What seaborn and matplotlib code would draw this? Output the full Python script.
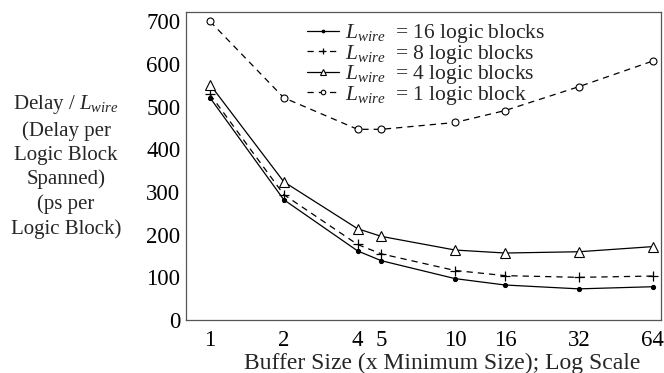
import matplotlib
matplotlib.use("Agg")
import matplotlib.pyplot as plt
import seaborn as sns
import pandas as pd
from matplotlib.ticker import FixedLocator, NullLocator, FixedFormatter

sns.set_theme(style="white")
plt.rcParams['font.family'] = ['Liberation Serif', 'DejaVu Serif']
plt.rcParams['mathtext.fontset'] = 'custom'
plt.rcParams['mathtext.rm'] = 'Liberation Serif'
plt.rcParams['mathtext.it'] = 'Liberation Serif:italic'

buffer_sizes = [1, 2, 4, 5, 10, 16, 32, 64]
delay_16 = [521, 282, 162, 139, 97, 82, 73, 78]
delay_8 = [529, 294, 177, 155, 116, 104, 100, 103]
delay_4 = [552, 324, 214, 196, 164, 157, 160, 172]
delay_1 = [700, 521, 447, 447, 463, 491, 547, 607]
series_labels = ["$L_{wire}$  = 16 logic blocks", "$L_{wire}$  = 8 logic blocks",
                 "$L_{wire}$  = 4 logic blocks", "$L_{wire}$  = 1 logic block"]
xtick_labels = ["1", "2", "4", "5", "10", "16", "32", "64"]
ytick_values = [0, 100, 200, 300, 400, 500, 600, 700]

fig = plt.figure(figsize=(6.64, 3.73), dpi=100)
ax = fig.add_axes([186/664, 1 - 320/373, (661-186)/664, (320-12)/373])

styles = [
    dict(linestyle='-', marker='o', markersize=3, markerfacecolor='black', markeredgecolor='black'),
    dict(linestyle=(0, (5, 4)), marker='+', markersize=7, markeredgewidth=0.9, markeredgecolor='black'),
    dict(linestyle='-', marker='^', markersize=6.5, markerfacecolor='white', markeredgecolor='black', markeredgewidth=0.8),
    dict(linestyle=(0, (5, 4)), marker='o', markersize=5, markerfacecolor='white', markeredgecolor='black', markeredgewidth=0.8),
]
for vals, lab, st in zip([delay_16, delay_8, delay_4, delay_1], series_labels, styles):
    df = pd.DataFrame({"x": buffer_sizes, "y": vals})
    sns.lineplot(data=df, x="x", y="y", ax=ax, color='black', linewidth=0.9,
                 label=lab, **st)

ax.set_xscale('log', base=2)
ax.set_xlim(0.798, 69.2)
ax.set_ylim(0, 722)
ax.xaxis.set_major_locator(FixedLocator(buffer_sizes))
ax.xaxis.set_major_formatter(FixedFormatter(xtick_labels))
ax.xaxis.set_minor_locator(NullLocator())
ax.set_yticks(ytick_values)
ax.tick_params(axis='both', direction='in', labelsize=16.5, colors='black')
ax.tick_params(axis='x', length=15, width=0.8, pad=7)
ax.tick_params(axis='y', length=9, width=0.8, pad=4)
for s in ax.spines.values():
    s.set_color('#555555')
    s.set_linewidth(0.9)
ax.set_xlabel("Buffer Size (x Minimum Size); Log Scale", fontsize=17, labelpad=0)
ax.xaxis.set_label_coords((442 - 186) / 475, -0.106)
ax.set_ylabel("")
fig.text(66/664, 1 - 166/373,
         "Delay / $L_{wire}$\n(Delay per\nLogic Block\nSpanned)\n(ps per\nLogic Block)",
         ha='center', va='center', fontsize=15, linespacing=1.33)

leg = ax.legend(loc='upper center', bbox_to_anchor=(0.505, 1.015), frameon=False,
                fontsize=15.5, handlelength=1.5, handletextpad=0.25, labelspacing=-0.12,
                borderpad=0.2, markerscale=0.65)

fig.savefig("out.png", dpi=100)
